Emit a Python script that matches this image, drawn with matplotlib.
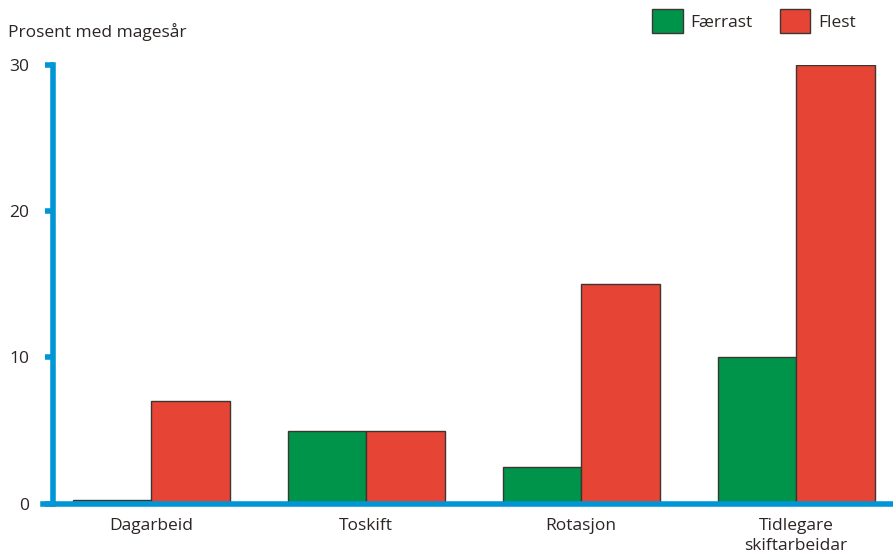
import matplotlib.pyplot as plt
import numpy as np

# Data
kategoriar = ['Dagarbeid', 'Toskift', 'Rotasjon', 'Tidlegare\nskiftarbeidar']
faerrast = [0.25, 5, 2.5, 10]
flest = [7, 5, 15, 30]
yticks = [0, 10, 20, 30]

blaa = '#0096d6'
groen = '#00944b'
raud = '#e64535'
kant = '#3d3530'
tekst = '#2b2523'

plt.rcParams['font.family'] = ['Open Sans', 'DejaVu Sans']

fig = plt.figure(figsize=(8.93, 5.59), dpi=100)
ax = fig.add_axes([0.0594, 0.0984, 0.9406, 0.7862])

x = np.arange(len(kategoriar))
w = 0.365
ax.bar(x - w / 2, faerrast, w, color=groen, edgecolor=kant, linewidth=1, label='Færrast', zorder=2)
ax.bar(x + w / 2, flest, w, color=raud, edgecolor=kant, linewidth=1, label='Flest', zorder=2)

ax.set_xlim(-0.456, 3.451)
ax.set_ylim(0, 30)

# Akser
for s in ['top', 'right', 'bottom']:
    ax.spines[s].set_visible(False)
ax.spines['left'].set_color(blaa)
ax.spines['left'].set_linewidth(4)
ax.axhline(0, xmin=-0.012, xmax=1, color=blaa, linewidth=4, clip_on=False, zorder=3)

ax.set_yticks(yticks)
ax.tick_params(axis='y', length=6, width=4, color=blaa, pad=11, labelsize=12.5, labelcolor=tekst)
ax.set_xticks(x)
ax.set_xticklabels(kategoriar, fontsize=12.5, color=tekst, linespacing=1.35)
ax.tick_params(axis='x', length=0, pad=10)

fig.text(0.009, 0.943, 'Prosent med magesår', fontsize=12.5, color=tekst, va='center', ha='left')

leg = fig.legend(loc='upper right', bbox_to_anchor=(0.972, 1.005), ncol=2, frameon=False,
                 fontsize=12.5, handlelength=1.75, handleheight=1.75, handletextpad=0.45,
                 columnspacing=1.57, borderaxespad=0.3)
for t in leg.get_texts():
    t.set_color(tekst)

fig.savefig('out.png', dpi=100)
